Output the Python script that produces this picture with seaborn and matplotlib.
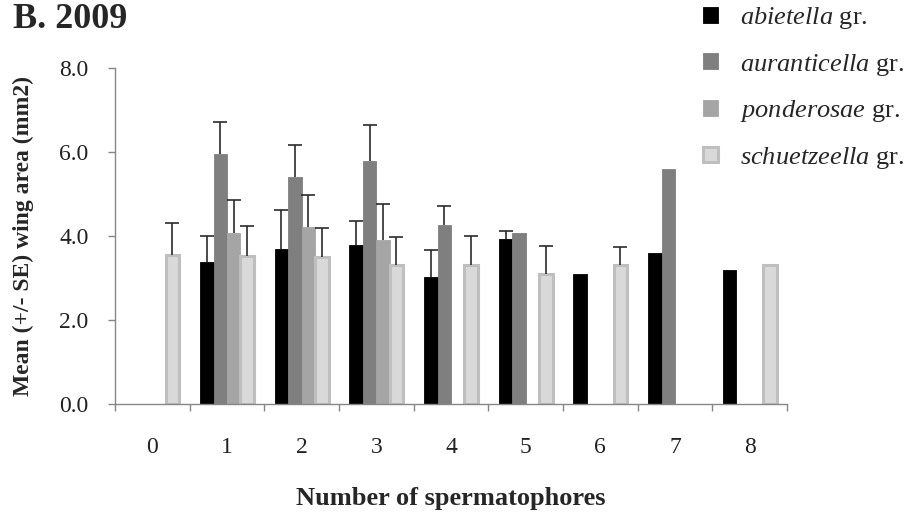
import numpy as np
import pandas as pd
import matplotlib
matplotlib.use("Agg")
import matplotlib.pyplot as plt
from matplotlib.patches import Patch
from matplotlib.ticker import FixedLocator
import seaborn as sns

# Mean wing area (mm2) and standard error per spermatophore count, by species group
spermatophores = [0, 1, 2, 3, 4, 5, 6, 7, 8]
groups = ["abietella", "auranticella", "ponderosae", "schuetzeella"]

abietella_mean = [np.nan, 3.38, 3.68, 3.79, 3.03, 3.94, 3.10, 3.60, 3.18]
abietella_se = [np.nan, 0.63, 0.95, 0.56, 0.64, 0.18, 0.0, 0.0, 0.0]

auranticella_mean = [np.nan, 5.94, 5.40, 5.79, 4.27, 4.07, np.nan, 5.60, np.nan]
auranticella_se = [np.nan, 0.77, 0.77, 0.86, 0.45, 0.0, np.nan, 0.0, np.nan]

ponderosae_mean = [np.nan, 4.07, 4.22, 3.91, np.nan, np.nan, np.nan, np.nan, np.nan]
ponderosae_se = [np.nan, 0.78, 0.76, 0.84, np.nan, np.nan, np.nan, np.nan, np.nan]

schuetzeella_mean = [3.54, 3.52, 3.49, 3.30, 3.30, 3.09, 3.30, np.nan, 3.31]
schuetzeella_se = [0.76, 0.71, 0.71, 0.68, 0.71, 0.67, 0.44, np.nan, 0.0]

yticks = [0, 2, 4, 6, 8]
ytick_labels = ["0.0", "2.0", "4.0", "6.0", "8.0"]

means = {"abietella": abietella_mean, "auranticella": auranticella_mean,
         "ponderosae": ponderosae_mean, "schuetzeella": schuetzeella_mean}
errors = {"abietella": abietella_se, "auranticella": auranticella_se,
          "ponderosae": ponderosae_se, "schuetzeella": schuetzeella_se}

rows = []
for g in groups:
    for i, n in enumerate(spermatophores):
        if not np.isnan(means[g][i]):
            rows.append({"n": str(n), "group": g, "area": means[g][i]})
df = pd.DataFrame(rows)

fill = {"abietella": "#000000", "auranticella": "#7f7f7f",
        "ponderosae": "#a5a5a5", "schuetzeella": "#d9d9d9"}
edge = {"abietella": "#000000", "auranticella": "#7f7f7f",
        "ponderosae": "#a5a5a5", "schuetzeella": "#bfbfbf"}
edge_width = {"abietella": 0.6, "auranticella": 0.6,
              "ponderosae": 0.6, "schuetzeella": 2.2}

sns.set_theme(style="white")
plt.rcParams["font.family"] = ["Liberation Serif", "DejaVu Serif"]
plt.rcParams["mathtext.fontset"] = "custom"
plt.rcParams["mathtext.it"] = "Liberation Serif:italic"
plt.rcParams["mathtext.rm"] = "Liberation Serif"

fig = plt.figure(figsize=(9.11, 5.13), dpi=100)
ax = fig.add_axes([0.1262, 0.2125, 0.7377, 0.6550])

sns.barplot(data=df, x="n", y="area", hue="group",
            order=[str(n) for n in spermatophores], hue_order=groups,
            palette=fill, width=0.72, errorbar=None, legend=False,
            saturation=1, ax=ax)

# style bars and add upward-only SE bars
for g, cont in zip(groups, ax.containers):
    for bar in cont:
        bar.set_edgecolor(edge[g])
        bar.set_linewidth(edge_width[g])
        x = bar.get_x() + bar.get_width() / 2
        h = bar.get_height()
        idx = int(round(x))
        se = errors[g][idx]
        if se and se > 0:
            eb = ax.errorbar(x, h, yerr=[[0.0], [se]], fmt="none",
                             ecolor="#2b2b2b", elinewidth=1.2, capsize=4.7,
                             capthick=1.2, zorder=3)
            eb.lines[1][0].set_visible(False)

ax.set_xlim(-0.5, 8.5)
ax.set_ylim(0, 8)
ax.set_yticks(yticks)
ax.set_yticklabels(ytick_labels)

for side in ["top", "right"]:
    ax.spines[side].set_visible(False)
for side in ["left", "bottom"]:
    ax.spines[side].set_color("#868686")
    ax.spines[side].set_linewidth(1.0)

ax.xaxis.set_minor_locator(FixedLocator(np.arange(-0.5, 9.0, 1.0)))
ax.tick_params(axis="x", which="major", length=0, pad=24, labelsize=17,
               labelcolor="#222222")
ax.tick_params(axis="x", which="minor", length=5, width=1.0, color="#868686",
               direction="out", bottom=True)
ax.tick_params(axis="y", which="major", length=5, width=1.0, color="#868686",
               direction="out", left=True, pad=14, labelsize=17,
               labelcolor="#222222")

ax.set_xlabel("Number of spermatophores", fontsize=19, fontweight="bold")
ax.xaxis.set_label_coords(0.5, -0.247)
ax.set_ylabel("Mean (+/- SE) wing area (mm2)", fontsize=17, fontweight="bold")
ax.yaxis.set_label_coords(-0.12, 0.5)

fig.text(0.014, 0.995, "B. 2009", fontsize=26, fontweight="bold",
         ha="left", va="top")

handles = [Patch(facecolor=fill[g], edgecolor=edge[g], linewidth=edge_width[g])
           for g in groups]
labels = [r"$\mathit{" + g + "}$ gr." for g in groups]
fig.legend(handles, labels, loc="upper left", bbox_to_anchor=(0.772, 0.99),
           frameon=False, fontsize=19, handlelength=0.55, handleheight=0.55,
           handletextpad=0.85, labelspacing=0.78, borderpad=0.0,
           borderaxespad=0.0)

fig.savefig("out.png", dpi=100)
